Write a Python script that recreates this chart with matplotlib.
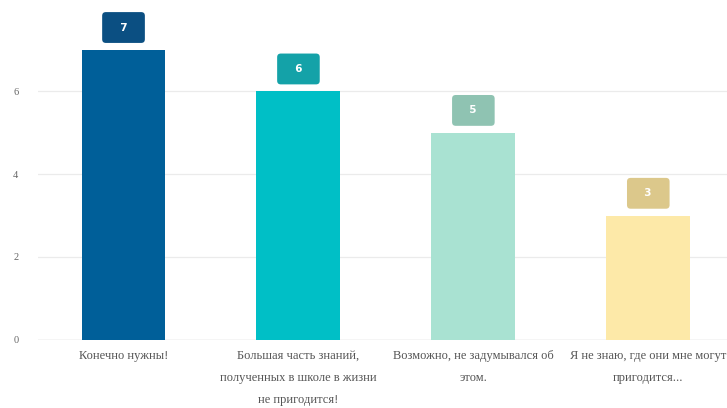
import matplotlib.pyplot as plt

# Chart data
categories = [
    "Конечно нужны!",
    "Большая часть знаний,\nполученных в школе в жизни\nне пригодится!",
    "Возможно, не задумывался об\nэтом.",
    "Я не знаю, где они мне могут\nпригодится...",
]
values = [7, 6, 5, 3]
bar_colors = ["#005f99", "#00bfc6", "#a9e2d2", "#fde9a8"]
badge_colors = ["#0b4f82", "#14a2a8", "#8fc3b2", "#dcc88b"]
y_ticks = [0, 2, 4, 6]

fig = plt.figure(figsize=(7.27, 4.08), dpi=100)
ax = fig.add_axes([0.052, 0.167, 0.948, 0.833])

x = list(range(len(categories)))
ax.bar(x, values, width=0.48, color=bar_colors, zorder=2)

# Value badges above each bar
for xi, v, bc in zip(x, values, badge_colors):
    ax.annotate("  " + str(v) + "  ", xy=(xi, v), xytext=(0, 16),
                textcoords="offset points",
                ha="center", va="center", color="white", fontsize=7.5,
                fontweight="bold",
                bbox=dict(boxstyle="round,pad=1.0,rounding_size=0.35",
                          fc=bc, ec="none", linewidth=0),
                zorder=3)

ax.set_xlim(-0.49, 3.45)
ax.set_ylim(0, 8.2)
ax.set_yticks(y_ticks)
ax.set_yticklabels([str(t) for t in y_ticks], fontsize=7.5, color="#666666",
                   family="Liberation Serif")
ax.yaxis.grid(True, color="#ebebeb", linewidth=0.9, zorder=0)
ax.set_xticks(x)
ax.set_xticklabels(categories, fontsize=9, color="#555555",
                   family="Liberation Serif", linespacing=2.15, va="top")
ax.tick_params(axis="both", length=0)
ax.tick_params(axis="x", pad=7)
ax.tick_params(axis="y", pad=14)
for s in ax.spines.values():
    s.set_visible(False)
ax.axhline(0, color="#d8d8d8", linewidth=1, zorder=1)

fig.savefig("out.png", dpi=100)
plt.close(fig)
